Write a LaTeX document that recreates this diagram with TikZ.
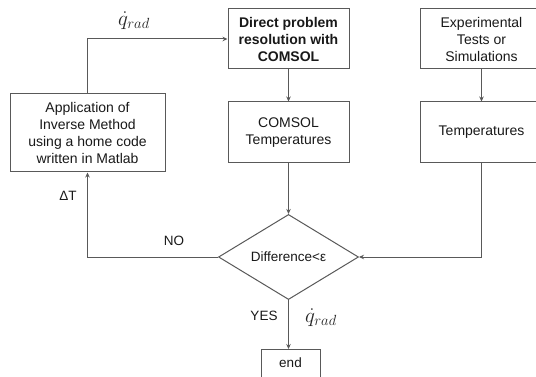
\RequirePackage{fix-cm}
\documentclass[tikz,border=0pt]{standalone}
\usepackage[no-math]{fontspec}
\setmainfont{Liberation Sans}
\usetikzlibrary{arrows.meta,shapes.geometric}
\begin{document}
\begin{tikzpicture}[x=1pt,y=-1pt,
  line/.style={draw=black!65,line width=1pt},
  arr/.style={line,-{Stealth[length=5pt,width=4.5pt]}},
  box/.style={draw=black!65,line width=1pt,fill=white,inner sep=0pt,align=center,
    font=\fontsize{14}{17}\selectfont,text=black!90},
  lbl/.style={font=\fontsize{13.5}{16}\selectfont,text=black!90,inner sep=0pt},
  qlbl/.style={inner sep=0pt,font=\fontsize{21}{21}\selectfont,text=black!85}]
\useasboundingbox (0,0) rectangle (536,377);
\node[box,minimum width=155pt,minimum height=78pt] (inv) at (87.5,133)
  {Application of\\Inverse Method\\using a home code\\written in Matlab};
\node[box,minimum width=121pt,minimum height=60pt,font=\fontsize{14}{17}\selectfont\bfseries] (dir) at (288.5,39)
  {Direct problem\\resolution with\\COMSOL};
\node[box,minimum width=121pt,minimum height=61pt] (ct) at (288.5,132.5)
  {COMSOL\\Temperatures};
\node[box,minimum width=123pt,minimum height=60pt] (exp) at (481.5,39)
  {Experimental\\Tests or\\Simulations};
\node[box,minimum width=123pt,minimum height=61pt] (tmp) at (481.5,132.5)
  {Temperatures};
\node[box,shape=diamond,minimum width=140pt,minimum height=70pt,font=\fontsize{13.5}{16}\selectfont] (dif) at (288.5,257)
  {Difference<ε};
\node[box,minimum width=59pt,minimum height=36pt,anchor=north] (end) at (290.5,349)
  {};
\node[lbl] (endt) at (290.5,363) {end};
\draw[arr] (dir) -- (ct);
\draw[arr] (exp) -- (tmp);
\draw[arr] (ct) -- (dif);
\draw[arr] (tmp.south) |- (dif.east);
\draw[arr] (dif.west) -| (inv.south);
\draw[arr] (inv.north) |- (dir.west);
\draw[arr] (dif.south) -- (end.north -| dif.south);
\node[qlbl] (q1) at (134,21) {$\dot{q}_{rad}$};
\node[qlbl] (q2) at (321,318) {$\dot{q}_{rad}$};
\node[lbl] (dt) at (68,196) {ΔT};
\node[lbl] (no) at (174,241) {NO};
\node[lbl] (yes) at (264,316) {YES};
\end{tikzpicture}
\end{document}
